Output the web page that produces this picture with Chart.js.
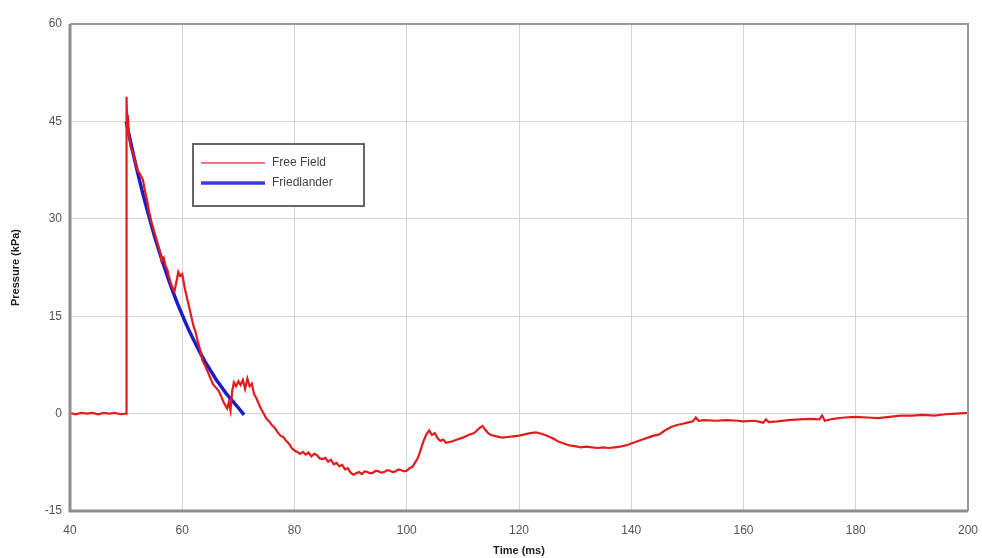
<!DOCTYPE html>
<html>
<head>
<meta charset="utf-8">
<script src="https://cdn.jsdelivr.net/npm/chart.js@4"></script>
<style>
  html, body { margin: 0; padding: 0; background: #fff; }
  #wrap { width: 982px; height: 558px; }
</style>
</head>
<body>
<div id="wrap"><canvas id="chart" width="982" height="558"></canvas></div>
<script>
const tiempoCampo = [
  40, 41, 42, 43, 44, 45, 46, 47, 48, 49, 49.9,
  50.0, 50.05, 50.1, 50.2, 50.3, 50.5, 50.8, 51.1, 51.4, 51.7, 52, 52.4, 52.7, 53, 53.3, 53.7, 54, 54.5,
  55, 55.5, 56, 56.3, 56.7, 57, 57.4, 57.8, 58.2, 58.6, 59, 59.3, 59.6, 60, 60.4, 60.8, 61.2, 61.6,
  62, 62.4, 62.8, 63.2, 63.6, 64, 64.5, 65, 65.5, 66, 66.5, 67, 67.5, 68, 68.3, 68.6, 68.9, 69.2, 69.6,
  70, 70.4, 70.8, 71.2, 71.6, 72, 72.4, 72.8, 73.2, 73.6, 74, 74.5, 75, 75.5, 76, 76.5, 77, 77.5, 78,
  78.5, 79, 79.5, 80, 80.5, 81, 81.5, 82, 82.5, 83, 83.5, 84, 84.5, 85, 85.5, 86, 86.5, 87, 87.5, 88,
  88.5, 89, 89.5, 90, 90.5, 91, 91.5, 92, 92.5, 93, 93.5, 94, 94.5, 95, 95.5, 96, 96.5, 97, 97.5,
  98, 98.5, 99, 99.5, 100, 100.5, 101, 101.5, 102, 102.5, 103, 103.5, 104, 104.5, 105, 105.5, 106, 106.5, 107, 108,
  109, 110, 111, 112, 112.5, 113, 113.5, 114, 114.5, 115, 116, 117, 118, 119, 120, 121, 122, 123, 124,
  125, 126, 127, 128, 129, 130, 131, 132, 133, 134, 135, 136, 137, 138, 139, 140, 141, 142, 143, 144,
  145, 146, 147, 148, 149, 150, 151, 151.5, 152, 153, 155, 157, 159, 160, 162, 163.5, 164, 164.5, 166,
  168, 170, 172, 173.5, 174, 174.5, 176, 178, 180, 182, 184, 186, 188, 190, 192, 194, 196, 198, 200
];
const presionCampo = [
  0.1, -0.1, 0.1, 0, 0.1, -0.1, 0.1, 0, 0.1, -0.1, 0,
  0, 30, 48.8, 44, 46, 43, 41, 40.5, 39.5, 38.5, 37.5, 37, 36.5, 36, 34.5, 33, 31.5, 29.5,
  28, 26.5, 25, 23.5, 24, 22.8, 22, 20.5, 19.5, 18.8, 20.5, 21.8, 21.2, 21.5, 19.5, 18, 16.5, 15,
  13.5, 12.5, 11, 9.8, 8.2, 7.5, 6.5, 5.5, 4.5, 4, 3.5, 2.5, 1.5, 0.8, 1.8, 0.5, 3.5, 4.8, 4.2,
  5, 4.4, 5.2, 3.8, 5.4, 4.2, 4.6, 3, 2.4, 1.6, 0.8, 0, -0.8, -1.2, -1.8, -2.2, -2.9, -3.4, -3.6,
  -4.2, -4.6, -5.3, -5.7, -5.9, -6.2, -5.9, -6.3, -6.0, -6.6, -6.2, -6.4, -6.9, -7.0, -6.8, -7.4, -7.1, -7.8, -7.6, -8.1,
  -7.9, -8.6, -8.4, -9.1, -9.4, -9.2, -9.0, -9.3, -8.9, -9.0, -9.2, -9.1, -8.8, -8.9, -9.1, -9.0, -8.7, -8.8, -9.0,
  -8.9, -8.6, -8.7, -8.9, -8.8, -8.4, -8.2, -7.5, -6.8, -5.5, -4.2, -3.2, -2.6, -3.3, -3.0, -3.8, -4.2, -4.0, -4.5, -4.3,
  -4.0, -3.7, -3.3, -3.0, -2.6, -2.2, -1.9, -2.5, -3.0, -3.3, -3.5, -3.7, -3.6, -3.5, -3.4, -3.2, -3.0, -2.9, -3.1,
  -3.4, -3.8, -4.3, -4.6, -4.9, -5.0, -5.2, -5.1, -5.2, -5.3, -5.2, -5.3, -5.2, -5.1, -4.9, -4.6, -4.3, -4.0, -3.7, -3.4,
  -3.2, -2.6, -2.1, -1.8, -1.6, -1.4, -1.2, -0.6, -1.1, -1.0, -1.1, -1.0, -1.1, -1.2, -1.1, -1.4, -0.9, -1.3, -1.2,
  -1.0, -0.9, -0.8, -0.9, -0.3, -1.1, -0.8, -0.6, -0.5, -0.6, -0.7, -0.5, -0.3, -0.3, -0.2, -0.3, -0.1, 0, 0.1
];

const tiempoFriedlander = [50, 51, 52, 53, 54, 55, 56, 57, 58, 59, 60, 61, 62, 63, 64, 65, 66, 67, 68, 69, 70, 71];
const presionFriedlander = [45, 41.0, 37.3, 33.8, 30.6, 27.5, 24.7, 22.1, 19.6, 17.3, 15.2, 13.2, 11.4, 9.7, 8.1, 6.7, 5.3, 4.1, 2.9, 1.9, 0.9, -0.2];

// Etiquetas de los ejes
const ticksX = [40, 60, 80, 100, 120, 140, 160, 180, 200];
const ticksY = [-15, 0, 15, 30, 45, 60];

const colorCampo = 'rgb(226, 28, 28)';
const colorFried = 'rgb(28, 28, 200)';
const fuente = '"Liberation Sans", Arial, sans-serif';

const aPuntos = (xs, ys) => xs.map((x, i) => ({ x, y: ys[i] }));

/* ================================
   Marco y leyenda dibujados a mano
================================= */
const marcoPlugin = {
  id: 'marco',
  afterDraw(chart) {
    const { ctx, chartArea: a } = chart;
    ctx.save();
    // bordes superior y derecho
    ctx.strokeStyle = '#9a9a9a';
    ctx.lineWidth = 2;
    ctx.beginPath();
    ctx.moveTo(a.left, a.top);
    ctx.lineTo(a.right, a.top);
    ctx.lineTo(a.right, a.bottom);
    ctx.stroke();
    // bordes izquierdo e inferior, mas gruesos
    ctx.strokeStyle = '#8c8c8c';
    ctx.lineWidth = 3;
    ctx.beginPath();
    ctx.moveTo(a.left, a.top);
    ctx.lineTo(a.left, a.bottom);
    ctx.lineTo(a.right, a.bottom);
    ctx.stroke();

    // leyenda
    const lx = a.left + 123, ly = a.top + 120, lw = 171, lh = 62;
    ctx.fillStyle = '#fff';
    ctx.fillRect(lx, ly, lw, lh);
    ctx.strokeStyle = '#666';
    ctx.lineWidth = 2;
    ctx.strokeRect(lx, ly, lw, lh);
    ctx.font = '12px ' + fuente;
    ctx.textBaseline = 'middle';
    chart.data.datasets.forEach((ds, i) => {
      const y = ly + 19 + i * 20;
      ctx.strokeStyle = i === 0 ? 'rgb(236, 120, 120)' : 'rgb(60, 60, 220)';
      ctx.lineWidth = i === 0 ? 2 : 3.5;
      ctx.beginPath();
      ctx.moveTo(lx + 8, y);
      ctx.lineTo(lx + 72, y);
      ctx.stroke();
      ctx.fillStyle = '#444';
      ctx.fillText(ds.label, lx + 79, y);
    });
    ctx.restore();
  }
};

new Chart(document.getElementById('chart'), {
  type: 'line',
  data: {
    datasets: [
      {
        label: 'Free Field',
        data: aPuntos(tiempoCampo, presionCampo),
        borderColor: colorCampo,
        borderWidth: 2.2,
        pointRadius: 0,
        tension: 0
      },
      {
        label: 'Friedlander',
        data: aPuntos(tiempoFriedlander, presionFriedlander),
        borderColor: colorFried,
        borderWidth: 3.5,
        pointRadius: 0,
        tension: 0.3
      }
    ]
  },
  options: {
    responsive: false,
    animation: false,
    layout: { padding: { top: 24, right: 14, left: 0, bottom: 0 } },
    plugins: { legend: { display: false }, tooltip: { enabled: false } },
    scales: {
      x: {
        type: 'linear',
        min: 40,
        max: 200,
        afterBuildTicks: s => { s.ticks = ticksX.map(v => ({ value: v })); },
        afterFit: s => { s.height = 47; s.paddingLeft = 0; s.paddingRight = 0; },
        grid: { color: '#d6d6d6', lineWidth: 1, drawTicks: false },
        border: { display: false },
        ticks: { color: '#555', padding: 12, font: { size: 12, family: fuente } },
        title: {
          display: true,
          text: 'Time (ms)',
          color: '#222',
          padding: { top: 0, bottom: 0 },
          font: { size: 11, weight: 'bold', family: fuente }
        }
      },
      y: {
        type: 'linear',
        min: -15,
        max: 60,
        afterBuildTicks: s => { s.ticks = ticksY.map(v => ({ value: v })); },
        afterFit: s => { s.width = 70; },
        grid: { color: '#d6d6d6', lineWidth: 1, drawTicks: false },
        border: { display: false },
        ticks: { color: '#555', padding: 8, font: { size: 12, family: fuente } },
        title: {
          display: true,
          text: 'Pressure (kPa)',
          color: '#222',
          padding: { top: 9, bottom: 0 },
          font: { size: 11, weight: 'bold', family: fuente }
        }
      }
    }
  },
  plugins: [marcoPlugin]
});
</script>
</body>
</html>
